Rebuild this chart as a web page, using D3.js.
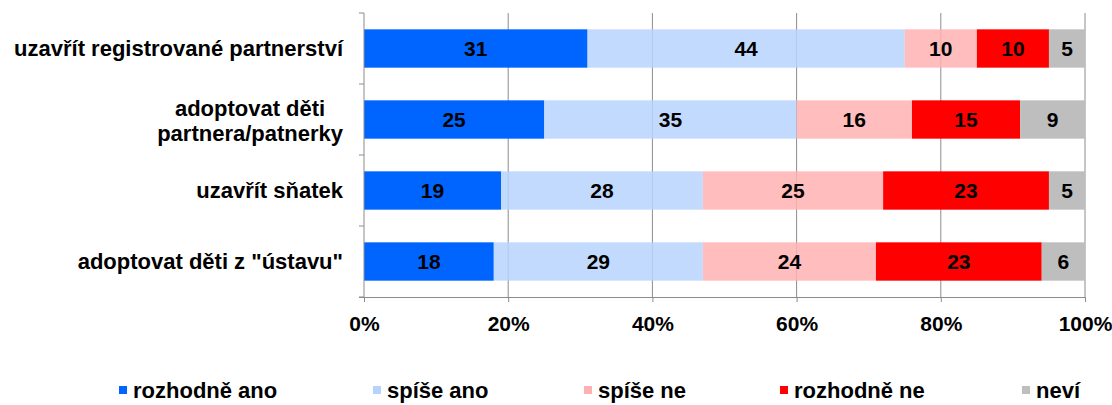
<!DOCTYPE html>
<html><head><meta charset="utf-8">
<script src="https://cdn.jsdelivr.net/npm/d3@7"></script>
<style>body{margin:0;background:#fff;} text{font-family:"Liberation Sans",Arial,sans-serif;font-weight:bold;fill:#000;}</style>
</head><body>
<svg id="c" width="1112" height="405"></svg>
<script>
const categories = ["uzavřít registrované partnerství", "adoptovat děti\npartnera/patnerky", "uzavřít sňatek", "adoptovat děti z \"ústavu\""];
const seriesNames = ["rozhodně ano", "spíše ano", "spíše ne", "rozhodně ne", "neví"];
const rozhodneAno = [31, 25, 19, 18];
const spiseAno = [44, 35, 28, 29];
const spiseNe = [10, 16, 25, 24];
const rozhodneNe = [10, 15, 23, 23];
const nevi = [5, 9, 5, 6];
const tickValues = [0, 20, 40, 60, 80, 100];
const colors = ["#0064FF", "#B7D3FD", "#FFB1B1", "#FF0000", "#BEBEBE"];

const seriesValues = [rozhodneAno, spiseAno, spiseNe, rozhodneNe, nevi];
const table = categories.map((c, i) => {
  const o = {cat: c};
  seriesNames.forEach((s, j) => o[s] = seriesValues[j][i]);
  return o;
});
const stack = d3.stack().keys(seriesNames)(table);

const svg = d3.select("#c");
const m = {l: 364, r: 1085, t: 13, b: 297};
const x = d3.scaleLinear().domain([0, 100]).range([m.l, m.r]);
const y = d3.scaleBand().domain(categories).range([m.t, m.b]).paddingInner(0.46).paddingOuter(0.23);

// gridlines
svg.append("g").selectAll("line").data(tickValues.slice(1)).join("line")
  .attr("x1", d => x(d)).attr("x2", d => x(d)).attr("y1", m.t).attr("y2", m.b)
  .attr("stroke", "#8c8c8c").attr("stroke-width", 1);

// bars
const layer = svg.append("g").selectAll("g").data(stack).join("g")
  .attr("fill", (d, i) => colors[i]).attr("fill-opacity", (d, i) => (i === 1 || i === 2) ? 0.85 : 1);
layer.selectAll("rect").data(d => d).join("rect")
  .attr("x", d => x(d[0])).attr("width", d => x(d[1]) - x(d[0]))
  .attr("y", d => y(d.data.cat)).attr("height", y.bandwidth());

// value labels
const lab = svg.append("g");
stack.forEach(s => {
  s.forEach(d => {
    lab.append("text").attr("x", (x(d[0]) + x(d[1])) / 2).attr("y", y(d.data.cat) + y.bandwidth() / 2)
      .attr("text-anchor", "middle").attr("dy", "0.36em").attr("font-size", 21)
      .text(d.data[s.key]);
  });
});

// y axis
svg.append("line").attr("x1", m.l).attr("x2", m.l).attr("y1", m.t).attr("y2", m.b).attr("stroke", "#8c8c8c");
const bounds = d3.range(categories.length + 1).map(i => m.t + i * (m.b - m.t) / categories.length);
svg.append("g").selectAll("line").data(bounds).join("line")
  .attr("x1", m.l - 5).attr("x2", m.l).attr("y1", d => d).attr("y2", d => d).attr("stroke", "#8c8c8c");

// x axis
const xa = svg.append("g").attr("transform", `translate(0,${m.b})`)
  .call(d3.axisBottom(x).tickValues(tickValues).tickFormat(d => d + "%").tickSize(5).tickPadding(14));
xa.select(".domain").attr("stroke", "#8c8c8c").attr("d", `M${m.l - 5},0.5H${m.r}`);
xa.selectAll(".tick line").attr("stroke", "#8c8c8c");
xa.selectAll(".tick text").attr("font-size", 21).attr("font-family", "Liberation Sans, Arial, sans-serif").attr("fill", "#000");

// category labels
categories.forEach(c => {
  const lines = c.split("\n");
  const cy = y(c) + y.bandwidth() / 2;
  const t = svg.append("text").attr("font-size", 22);
  if (lines.length === 1) {
    t.attr("x", 343).attr("y", cy).attr("dy", "0.36em").attr("text-anchor", "end").text(c);
  } else {
    t.attr("text-anchor", "middle");
    lines.forEach((ln, i) => {
      t.append("tspan").attr("x", 0).attr("y", cy + 1.5 + (i - (lines.length - 1) / 2) * 25).attr("dy", "0.36em").text(ln);
    });
    const maxW = d3.max(t.selectAll("tspan").nodes(), n => n.getComputedTextLength());
    t.selectAll("tspan").attr("x", 343 - maxW / 2);
  }
});

// legend
const legX = [119, 373, 584, 780, 1022];
const lg = svg.append("g").selectAll("g").data(seriesNames).join("g")
  .attr("transform", (d, i) => `translate(${legX[i]},390)`);
lg.append("rect").attr("x", 0).attr("y", -4).attr("width", 8).attr("height", 8)
  .attr("fill", (d, i) => colors[i]);
lg.append("text").attr("x", 14).attr("y", 0).attr("dy", "0.36em").attr("font-size", 22).text(d => d);
</script>
</body></html>
